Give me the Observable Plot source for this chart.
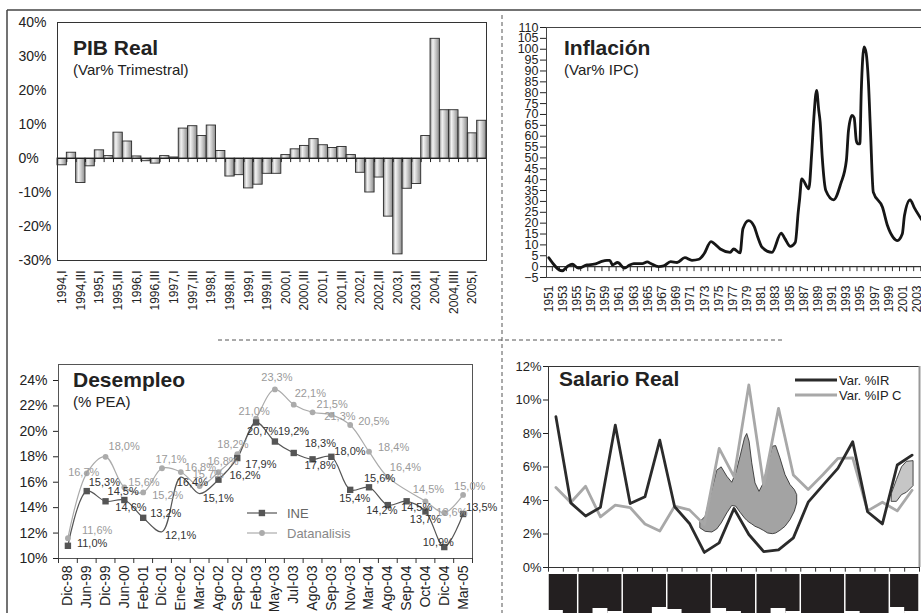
<!DOCTYPE html>
<html><head><meta charset="utf-8">
<script src="https://cdn.jsdelivr.net/npm/d3@7"></script>
<script src="https://cdn.jsdelivr.net/npm/@observablehq/plot@0.6"></script>
<style>
html,body{margin:0;padding:0;background:#fff;overflow:hidden;}
#root{position:relative;width:921px;height:613px;overflow:hidden;background:#fff;}
#root svg{position:absolute;}
</style></head><body><div id="root"></div>
<script>
// ---------------- DATA ----------------
// PIB Real (Var% trimestral), 1994,I .. 2005,II
const pibValues = [-2.0, 1.7, -7.2, -2.3, 2.4, 0.7, 7.6, 5.0, 0.6, -0.8, -1.5, 0.7, 0.3, 8.8, 9.5, 6.6, 9.7, 2.2,
  -5.3, -4.9, -8.8, -7.7, -4.5, -4.5, 1.0, 2.7, 3.7, 5.7, 3.9, 3.1, 3.4, 1.0, -4.2, -10.0, -5.6, -17.1, -28.2,
  -8.9, -7.5, 6.6, 35.2, 14.2, 14.2, 12.0, 7.4, 11.1];
const pibTickLabels = ["1994,I","1994,III","1995,I","1995,III","1996,I","1996,III","1997,I","1997,III","1998,I",
  "1998,III","1999,I","1999,III","2000,I","2000,III","2001,I","2001,III","2002,I","2002,III","2003,I","2003,III",
  "2004,I","2004,IIII","2005,I"];
const pibYTicks = [-30, -20, -10, 0, 10, 20, 30, 40];

// Inflación (Var% IPC)
const inflYear = [1951.0, 1952.9, 1953.7, 1954.3, 1955.2, 1956.4, 1957.4, 1958.3, 1959.2, 1959.6, 1960.0, 1960.7,
  1961.7, 1962.3, 1963.0, 1964.2, 1964.9, 1965.4, 1966.5, 1967.2, 1968.2, 1969.1, 1970.2, 1971.2, 1972.2, 1972.9,
  1973.9, 1974.4, 1975.2, 1976.6, 1977.1, 1978.0, 1978.4, 1979.2, 1980.0, 1980.5, 1981.1, 1982.5, 1983.8, 1984.3,
  1985.1, 1985.8, 1986.2, 1986.4, 1986.7, 1987.7, 1988.1, 1988.4, 1988.8, 1989.1, 1989.3, 1989.6, 1990.1, 1991.2,
  1992.2, 1993.0, 1993.3, 1993.8, 1994.1, 1994.4, 1994.6, 1994.9, 1995.1, 1995.5, 1995.8, 1996.1, 1996.4, 1996.8,
  1998.1, 1998.8, 1999.6, 2000.2, 2000.9, 2001.2, 2002.0, 2002.6, 2003.7];
const inflValue = [4.1, -1.9, 0.3, 1.1, -0.7, 0.8, 1.1, 2.2, 2.9, 2.9, 0.8, 1.9, -0.7, 0.5, 1.4, 1.4, 2.2, 1.4, 0.0,
  0.3, 2.3, 1.9, 4.1, 2.9, 3.4, 5.8, 11.5, 10.5, 8.1, 6.6, 8.1, 6.3, 17.4, 21.2, 18.4, 13.5, 8.9, 6.6, 15.4, 13.0,
  9.3, 11.2, 25.0, 31.0, 40.4, 35.8, 51.9, 68.0, 81.1, 72.0, 66.5, 50.0, 35.0, 30.7, 38.1, 48.8, 62.7, 69.6, 68.5,
  58.0, 56.5, 56.5, 80.3, 101.1, 98.1, 85.7, 62.7, 34.3, 27.3, 18.9, 13.5, 12.0, 15.1, 23.5, 30.7, 27.0, 21.2];
const inflYLabels = d3.range(-5, 111, 5);
const inflXLabels = d3.range(1951, 2004, 2);

// Desempleo (% PEA)
const desCats = ["Dic-98","Jun-99","Dic-99","Jun-00","Feb-01","Dic-01","Ene-02","Mar-02","Ago-02","Sep-02","Feb-03",
  "May-03","Jul-03","Ago-03","Sep-03","Nov-03","Mar-04","Ago-04","Sep-04","Oct-04","Dic-04","Mar-05"];
const ineValues = [11.0, 15.3, 14.5, 14.6, 13.2, 12.1, 16.4, 15.1, 16.2, 17.9, 20.7, 19.2, 18.3, 17.8, 18.0, 15.4,
  15.6, 14.2, 14.5, 13.7, 10.9, 13.5];
const datValues = [11.6, 16.7, 18.0, 15.6, 15.2, 17.1, 16.8, 15.7, 16.8, 18.2, 21.0, 23.3, 22.1, 21.5, 21.3, 20.5,
  18.4, 16.4, null, 14.5, 13.6, 15.0];
const desYTicks = [10, 12, 14, 16, 18, 20, 22, 24];

// Salario Real
const irValues = [9.0, 3.86, 3.07, 3.59, 8.5, 3.82, 4.22, 7.6, 3.63, 2.63, 0.9, 1.47, 3.52, 1.97, 0.95, 1.05, 1.77,
  3.9, 4.92, 5.92, 7.51, 3.33, 2.6, 6.12, 6.71];
const ipcValues = [4.77, 3.88, 4.85, 3.02, 3.72, 3.58, 2.6, 2.18, 3.66, 3.44, 2.56, 7.11, 5.42, 10.9, 4.92, 9.5,
  5.52, 4.66, 5.55, 6.51, 6.55, 3.38, 3.9, 3.38, 4.61];
const salYTicks = [0, 2, 4, 6, 8, 10, 12];
const salGroups = [2, 3, 3, 3, 3, 3, 3, 3, 2];
// shaded regions (category position, lower %, upper %)
const shade1X  = [9.75, 10.09, 10.54, 10.87, 11.17, 11.55, 11.88, 12.15, 12.44, 12.74, 12.89, 13.05, 13.23, 13.45, 13.72, 14.01, 14.30, 14.62, 14.84, 15.13, 15.47, 15.81, 16.10, 16.26];
const shade1Lo = [2.33, 2.13, 2.09, 2.27, 2.63, 3.23, 3.67, 3.63, 3.27, 2.93, 2.79, 2.67, 2.57, 2.43, 2.33, 2.19, 2.03, 1.99, 2.03, 2.19, 2.43, 2.83, 3.33, 3.82];
const shade1Hi = [2.73, 3.03, 4.62, 5.78, 5.98, 5.42, 5.06, 5.62, 6.61, 7.71, 7.97, 7.51, 6.22, 5.02, 4.52, 5.02, 6.12, 7.21, 7.25, 6.51, 5.52, 4.92, 4.62, 4.32];
const shade2X  = [22.65, 22.98, 23.32, 23.65, 24.10];
const shade2Lo = [3.92, 3.92, 4.32, 4.46, 4.86];
const shade2Hi = [4.42, 5.22, 5.98, 6.31, 6.35];

// ---------------- STYLE / LAYOUT ----------------
const FONT = '"Liberation Sans", Arial, Helvetica, sans-serif';
const TXT = "#222";
const baseStyle = (fs) => ({fontFamily: FONT, fontSize: fs + "px", color: TXT, background: "transparent", overflow: "visible"});
const root = document.getElementById("root");
function put(svg, left, top) { svg.style.left = left + "px"; svg.style.top = top + "px"; root.appendChild(svg); return svg; }
const pct = d => d + "%";
const fmtC = v => v.toFixed(1).replace(".", ",") + "%";

// ---------------- PIB ----------------
const pibData = pibValues.map((v, i) => ({i, v}));
const pibTickIdx = pibTickLabels.map((_, k) => 2 * k);
const pib = Plot.plot({
  width: 484, height: 310, marginLeft: 50, marginRight: 5, marginTop: 12, marginBottom: 60,
  style: baseStyle(14),
  x: {type: "linear", domain: [-0.5, pibValues.length - 0.5], axis: null},
  y: {domain: [-30, 40], axis: null},
  marks: [
    Plot.rectY(pibData, {x1: d => d.i - 0.5, x2: d => d.i + 0.5, y: "v", fill: "url(#pibBar)", stroke: "#2a2a2a", strokeWidth: 0.9}),
    Plot.ruleY([0], {stroke: "#222", strokeWidth: 1.1}),
    Plot.ruleX(d3.range(pibValues.length + 1).map(k => k - 0.5), {x: d => d, y1: 0, y2: -1.2, stroke: "#222"}),
    Plot.frame({stroke: "#333", strokeWidth: 1}),
    Plot.axisY(pibYTicks, {label: null, tickSize: 0, tickPadding: 39, textAnchor: "start", tickFormat: pct, fontSize: 14}),
    Plot.axisX(pibTickIdx, {label: null, tickSize: 0, tickPadding: 10, tickRotate: -90, tickFormat: i => pibTickLabels[i / 2], fontSize: 12})
  ]
});
const defs = d3.select(pib).insert("defs", ":first-child");
const grad = defs.append("linearGradient").attr("id", "pibBar").attr("x1", 0).attr("x2", 1).attr("y1", 0).attr("y2", 0);
[[0, "#8c8c8c"], [0.3, "#f2f2f2"], [0.55, "#d0d0d0"], [1, "#8a8a8a"]].forEach(([o, c]) =>
  grad.append("stop").attr("offset", o).attr("stop-color", c));
put(pib, 7, 10);

// ---------------- INFLACIÓN ----------------
const inflData = inflYear.map((y, i) => ({y, v: inflValue[i]}));
const pxPerYear = 7.085, x0 = 1951 - (548.3 - 546) / pxPerYear;
const inflW = 394;
const infl = Plot.plot({
  width: 45 + inflW, height: 310, marginLeft: 45, marginRight: 0, marginTop: 10, marginBottom: 50,
  style: baseStyle(12.5),
  x: {domain: [x0, x0 + inflW / pxPerYear], axis: null},
  y: {domain: [-5, 110], axis: null},
  marks: [
    Plot.ruleY([110, -5], {stroke: "#444", strokeWidth: 1}),
    Plot.ruleX([x0], {stroke: "#444", strokeWidth: 1}),
    Plot.ruleY([0], {stroke: "#333", strokeWidth: 1.2}),
    Plot.ruleX(d3.range(1951, 2007).map(y => y + 0.5), {x: d => d, y1: 0, y2: -2.3, stroke: "#333"}),
    Plot.line(inflData, {x: "y", y: "v", stroke: "#161616", strokeWidth: 2.8, curve: "monotone-x"}),
    Plot.axisY(inflYLabels, {label: null, tickSize: 6, tickPadding: 2, fontSize: 12.5}),
    Plot.axisX(inflXLabels, {label: null, tickSize: 0, tickPadding: 8, tickRotate: -90, tickFormat: d => String(d), fontSize: 12})
  ]
});
put(infl, 501, 17);

// ---------------- DESEMPLEO ----------------
const ineData = ineValues.map((v, i) => ({i, v}));
const datData = datValues.map((v, i) => ({i, v})).filter(d => d.v != null);
const ineNoMarker = [5, 6, 7];
// label nudges [dx, dy, anchor]
const ineNudge = [[9,-2,"start"],[2,-9,"start"],[2,-10,"start"],[-9,7,"start"],[7,-4,"start"],[3,4,"start"],
  [-4,5,"start"],[3,5,"start"],[11,-4,"start"],[8,6,"start"],[-9,9,"start"],[3,-10,"start"],[11,-10,"start"],
  [-8,6,"start"],[3,-5,"start"],[-11,9,"start"],[-5,-9,"start"],[-6,5,"middle"],[10,6,"middle"],[0,8,"middle"],
  [-6,-5,"middle"],[3,-7,"start"]];
const datNudge = [[14,-8,"start"],[-3,-1,"middle"],[3,-10,"start"],[4,-5,"start"],[9,3,"start"],[9,-9,"middle"],
  [4,-5,"start"],[-7,-12,"start"],[-11,-11,"start"],[-20,-10,"start"],[-2,-7,"middle"],[2,-12,"middle"],
  [1,-11,"start"],[4,-8,"start"],[-7,2,"start"],[8,-4,"start"],[9,-4,"start"],[2,-10,"start"],null,
  [3,-12,"middle"],[-8,0,"start"],[-9,-8,"start"]];
const labelMarks = [];
datData.forEach(d => { const n = datNudge[d.i];
  labelMarks.push(Plot.text([d], {x: "i", y: "v", text: e => fmtC(e.v), dx: n[0], dy: n[1], textAnchor: n[2], fill: "#9a9a9a", fontSize: 11})); });
ineData.forEach(d => { const n = ineNudge[d.i];
  labelMarks.push(Plot.text([d], {x: "i", y: "v", text: e => fmtC(e.v), dx: n[0], dy: n[1], textAnchor: n[2], fill: "#333", fontSize: 11})); });
const desYTop = 24 + 16 / 12.71;
const des = Plot.plot({
  width: 470, height: 255, marginLeft: 51, marginRight: 5, marginTop: 6, marginBottom: 55,
  style: baseStyle(14),
  x: {type: "linear", domain: [-0.5, desCats.length - 0.5], axis: null},
  y: {domain: [10, desYTop], axis: null},
  marks: [
    Plot.frame({stroke: "#555", strokeWidth: 1}),
    Plot.ruleX(d3.range(desCats.length + 1).map(k => k - 0.5), {x: d => d, y1: 10, y2: 10 - 5 / 12.71, stroke: "#333"}),
    Plot.line(datData, {x: "i", y: "v", stroke: "#ababab", strokeWidth: 1.2, curve: "catmull-rom"}),
    Plot.line(ineData, {x: "i", y: "v", stroke: "#555", strokeWidth: 1.2, curve: "catmull-rom"}),
    Plot.dot(datData, {x: "i", y: "v", r: 2.9, fill: "#ababab", stroke: "none"}),
    Plot.dot(ineData.filter(d => !ineNoMarker.includes(d.i)), {x: "i", y: "v", symbol: "square", r: 3.6, fill: "#555", stroke: "none"}),
    ...labelMarks,
    Plot.axisY(desYTicks, {label: null, tickSize: 5, tickPadding: 6, tickFormat: pct, fontSize: 14}),
    Plot.axisX(d3.range(desCats.length), {label: null, tickSize: 0, tickPadding: 7, tickRotate: -90, tickFormat: i => desCats[i], fontSize: 14})
  ]
});
put(des, 7, 358);

// ---------------- SALARIO REAL ----------------
const irData = irValues.map((v, i) => ({i, v}));
const ipcData = ipcValues.map((v, i) => ({i, v}));
const shade1 = shade1X.map((x, k) => ({x, lo: shade1Lo[k], hi: shade1Hi[k]}));
const shade2 = shade2X.map((x, k) => ({x, lo: shade2Lo[k], hi: shade2Hi[k]}));
let acc = 0;
const blocks = salGroups.map(n => { const b = {a: acc, b: acc + n - 1}; acc += n; return b; });
const notch = [[0,3],[3,5],[4,2],[7,6],[8,4],[11,5],[12,2],[15,5],[16,2],[20,2],[23,6],[24,2]];
const pxU = 201 / 12, yBot = -(613 - 567) / pxU, yBlk = -(574 - 567) / pxU;
const sal = Plot.plot({
  width: 421, height: 257, marginLeft: 48, marginRight: 2, marginTop: 10, marginBottom: 0,
  style: baseStyle(13),
  x: {type: "linear", domain: [-0.5, irValues.length - 0.5], axis: null},
  y: {domain: [yBot, 12], axis: null},
  marks: [
    Plot.rect(blocks, {x1: d => d.a - 0.5 + 0.05, x2: d => d.b + 0.5 - 0.05, y1: yBlk, y2: yBot, fill: "#231f20"}),
    Plot.rect(notch, {x1: d => d[0] - 0.5, x2: d => d[0] + 0.5, y1: yBot, y2: d => yBot + d[1] / pxU, fill: "#fff"}),
    Plot.ruleY([12], {stroke: "#333", strokeWidth: 1}),
    Plot.ruleX([-0.5], {y1: 0, y2: 12, stroke: "#333", strokeWidth: 1}),
    Plot.ruleX([irValues.length - 0.5], {y1: 0, y2: 12, stroke: "#999", strokeWidth: 2}),
    Plot.ruleY([0], {stroke: "#333", strokeWidth: 1}),
    Plot.ruleX(d3.range(irValues.length + 1).map(k => k - 0.5), {x: d => d, y1: 0, y2: -0.28, stroke: "#333"}),
    Plot.areaY(shade1, {x: "x", y1: "lo", y2: "hi", fill: "#a3a3a3", stroke: "#222", strokeWidth: 0.8}),
    Plot.areaY(shade2, {x: "x", y1: "lo", y2: "hi", fill: "#c6c6c6", stroke: "#222", strokeWidth: 0.8}),
    Plot.line(ipcData, {x: "i", y: "v", stroke: "#a8a8a8", strokeWidth: 2.8}),
    Plot.line(irData, {x: "i", y: "v", stroke: "#2b2b2b", strokeWidth: 2.8}),
    Plot.axisY(salYTicks, {label: null, tickSize: 5, tickPadding: 2, tickFormat: pct, fontSize: 13})
  ]
});
put(sal, 500, 356);

// ---------------- OVERLAY: frame, separators, titles, legends ----------------
const ov = d3.select(root).append("svg").attr("width", 921).attr("height", 613)
  .style("left", "0px").style("top", "0px").style("font-family", FONT).style("pointer-events", "none");
ov.append("line").attr("x1", 7).attr("x2", 921).attr("y1", 10).attr("y2", 10).attr("stroke", "#444").attr("stroke-width", 1.5);
ov.append("line").attr("x1", 7).attr("x2", 7).attr("y1", 10).attr("y2", 613).attr("stroke", "#444").attr("stroke-width", 1.5);
ov.append("line").attr("x1", 502).attr("x2", 502).attr("y1", 15).attr("y2", 613).attr("stroke", "#555").attr("stroke-dasharray", "4,3");
ov.append("line").attr("x1", 218).attr("x2", 784).attr("y1", 340).attr("y2", 340).attr("stroke", "#555").attr("stroke-dasharray", "4,3");
function title(x, y, t, sub) {
  ov.append("text").attr("x", x).attr("y", y).attr("font-size", 21).attr("font-weight", "bold").attr("fill", TXT).text(t);
  if (sub) ov.append("text").attr("x", x).attr("y", y + 20).attr("font-size", 15).attr("fill", TXT).text(sub);
}
title(73, 55, "PIB Real", "(Var% Trimestral)");
title(564, 55, "Inflación", "(Var% IPC)");
title(73, 387, "Desempleo", "(% PEA)");
title(559, 386, "Salario Real", null);
// Desempleo legend
ov.append("line").attr("x1", 247).attr("x2", 277).attr("y1", 513).attr("y2", 513).attr("stroke", "#555").attr("stroke-width", 1.2);
ov.append("rect").attr("x", 258.7).attr("y", 509.8).attr("width", 6.4).attr("height", 6.4).attr("fill", "#555");
ov.append("text").attr("x", 287).attr("y", 517.5).attr("font-size", 13).attr("fill", "#666").text("INE");
ov.append("line").attr("x1", 247).attr("x2", 277).attr("y1", 533).attr("y2", 533).attr("stroke", "#ababab").attr("stroke-width", 1.2);
ov.append("circle").attr("cx", 262).attr("cy", 533).attr("r", 2.9).attr("fill", "#ababab");
ov.append("text").attr("x", 287).attr("y", 537.5).attr("font-size", 13).attr("fill", "#888").text("Datanalisis");
// Salario legend
ov.append("line").attr("x1", 795).attr("x2", 837).attr("y1", 380).attr("y2", 380).attr("stroke", "#2b2b2b").attr("stroke-width", 3);
ov.append("text").attr("x", 839).attr("y", 384.5).attr("font-size", 13).attr("fill", TXT).text("Var. %IR");
ov.append("line").attr("x1", 795).attr("x2", 837).attr("y1", 395).attr("y2", 395).attr("stroke", "#a8a8a8").attr("stroke-width", 3);
ov.append("text").attr("x", 839).attr("y", 399.5).attr("font-size", 13).attr("fill", TXT).text("Var. %IP C");
</script></body></html>
